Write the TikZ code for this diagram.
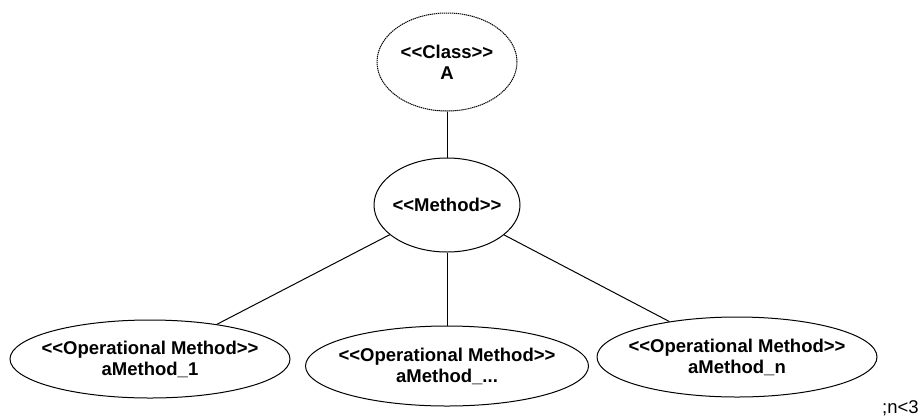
\documentclass[tikz,border=0pt]{standalone}
\usepackage{fontspec}
\setmainfont{Liberation Sans}[Ligatures=TeXOff]
\usetikzlibrary{shapes.geometric}
% stereotype label, kept apart so no ligature forms
\newcommand\stereotype[1]{<\kern0pt<#1>\kern0pt>}
\begin{document}
\begin{tikzpicture}[x=1pt,y=-1pt,
  bubble/.style={ellipse,draw=black,line width=1pt,inner xsep=-16pt,inner ysep=0pt,align=center,
    font=\fontsize{18.5}{21}\selectfont\bfseries},
  classbubble/.style={bubble,dash pattern=on 1.3pt off 0.7pt},
  link/.style={draw=black,line width=1pt},
  note/.style={font=\fontsize{18.5}{21}\selectfont,inner sep=0pt}]
  \useasboundingbox (0,0) rectangle (923,416);
  % class and method
  \node[classbubble,minimum width=140pt,minimum height=98pt] (cls) at (447,62) {\stereotype{Class}\\A};
  \node[bubble,minimum width=146pt,minimum height=94pt] (meth) at (447,205) {\stereotype{Method}};
  % operational methods
  \node[bubble,minimum width=280pt,minimum height=78pt] (op1) at (150,359) {\stereotype{Operational Method}\\aMethod\_1};
  \node[bubble,minimum width=283pt,minimum height=80pt] (op2) at (447,366) {\stereotype{Operational Method}\\aMethod\_...};
  \node[bubble,minimum width=280pt,minimum height=80pt] (op3) at (737,357) {\stereotype{Operational Method}\\aMethod\_n};
  % links
  \path[link] (cls) -- (meth);
  \path[link] (meth) -- (op1);
  \path[link] (meth) -- (op2);
  \path[link] (meth) -- (op3);
  % constraint
  \node[note,anchor=west] (cond) at (882,408) {;n\kern0pt<3};
\end{tikzpicture}
\end{document}
